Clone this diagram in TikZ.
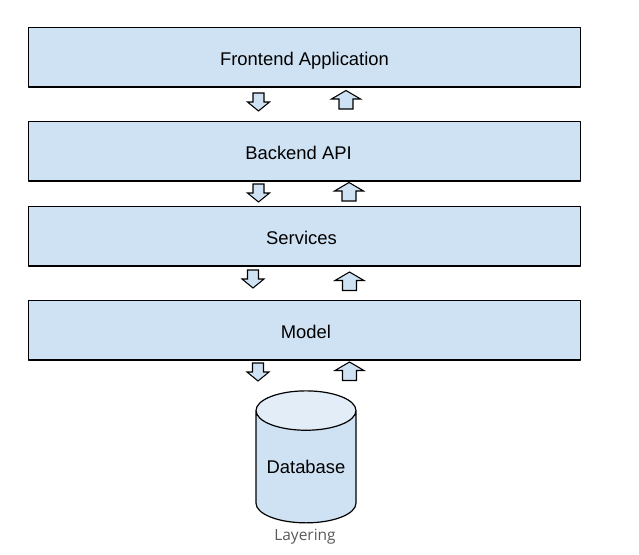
\documentclass[tikz,border=0pt]{standalone}
\usepackage{fontspec}
\setmainfont{Liberation Sans}
\newfontfamily\captionfont{Open Sans}
\usepackage{tikz}
\usetikzlibrary{shapes.geometric,positioning}
\definecolor{layerfill}{HTML}{CFE2F3}
\definecolor{dbtop}{HTML}{E2EDF8}
\definecolor{captiongray}{HTML}{595959}
\tikzset{
  layer/.style={draw=black,line width=1.1pt,fill=layerfill,inner sep=0pt,
    minimum width=414pt,minimum height=44.6pt,text height=12.1pt,text depth=0pt,
    font=\fontsize{13.8}{16}\selectfont},
  nudge/.style={execute at begin node={\hspace*{#1}}},
  blockarrow/.style={draw=black,line width=0.8pt,fill=layerfill,line join=miter},
  dnarrow/.pic={\path[blockarrow] (-5.5,-9) -- (5.5,-9) -- (5.5,0) -- (11,0)
    -- (0,9) -- (-11,0) -- (-5.5,0) -- cycle;},
  uparrow/.pic={\path[blockarrow] (-7,9) -- (7,9) -- (7,-1) -- (14.5,-1)
    -- (0,-9.5) -- (-14.5,-1) -- (-7,-1) -- cycle;}
}

\begin{document}
\begin{tikzpicture}[x=0.75pt,y=-0.75pt,line cap=round,line join=round]
  % page frame (pixel units, y down)
  \useasboundingbox (0,0) rectangle (639,554);

  % layers
  \node[layer] (front) at (304.5,57.25) {Frontend Application};
  \node[layer,nudge=-9pt] (api) at (304.5,151.25) {Backend API};
  \node[layer,nudge=-4.5pt] (svc) at (304.5,236.25) {Services};
  \node[layer,nudge=2.2pt] (model) at (304.5,330.25) {Model};

  % storage
  \node[cylinder,shape border rotate=90,aspect=0.5,draw=black,line width=0.9pt,
        cylinder uses custom fill,cylinder body fill=layerfill,cylinder end fill=dbtop,
        minimum width=75pt,minimum height=99pt,inner sep=0pt,
        font=\fontsize{13.8}{16}\selectfont] (db) at (306,467) {Database};

  % calls down, results up
  \pic at (258.5,102) {dnarrow};
  \pic at (346,100) {uparrow};
  \pic at (258.5,193) {dnarrow};
  \pic at (349,192) {uparrow};
  \pic at (253,279) {dnarrow};
  \pic at (349.5,281.5) {uparrow};
  \pic at (258,372) {dnarrow};
  \pic at (349.5,371.5) {uparrow};

  % caption
  \node[font=\captionfont\fontsize{11.6}{14}\selectfont,text=captiongray]
    (cap) at (305,537) {Layering};
\end{tikzpicture}
\end{document}
